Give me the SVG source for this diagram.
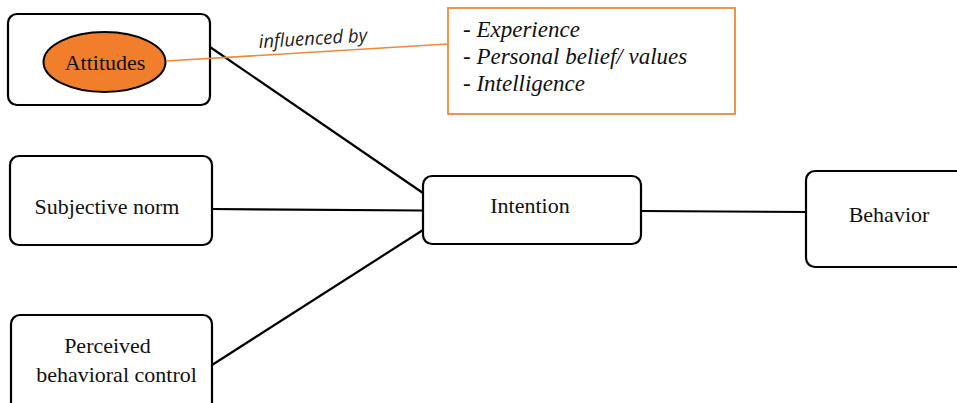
<svg xmlns="http://www.w3.org/2000/svg" width="957" height="403" viewBox="0 0 957 403">
<style>
.box{fill:#fff;stroke:#000;stroke-width:2.2}
.lbl{font-family:'Liberation Serif','Tinos','Times New Roman','DejaVu Serif',serif;font-size:22px;fill:#111}
.it{font-family:'Liberation Serif','Tinos','Times New Roman','DejaVu Serif',serif;font-style:italic;font-size:23px;fill:#111}
.con{stroke:#000;stroke-width:2.2;fill:none}
</style>
<rect width="957" height="403" fill="#fff"/>
<g id="attitudes">
<rect class="box" x="8" y="14" width="202" height="91" rx="9"/>
<ellipse cx="104.5" cy="62" rx="61" ry="30" fill="#F07E2B" stroke="#000" stroke-width="2"/>
<text class="lbl" x="105" y="70" text-anchor="middle">Attitudes</text>
</g>
<g id="factors">
<rect x="448" y="8" width="287" height="106" fill="#fff" stroke="#F0883A" stroke-width="1.8"/>
<text class="it" x="463" y="37">- Experience</text>
<text class="it" x="463" y="64">- Personal belief/ values</text>
<text class="it" x="463" y="91">- Intelligence</text>
</g>
<g id="subjective-norm">
<rect class="box" x="10" y="156" width="202" height="89" rx="9"/>
<text class="lbl" x="107" y="214" text-anchor="middle">Subjective norm</text>
</g>
<g id="perceived">
<rect class="box" x="11" y="315" width="201" height="100" rx="9"/>
<text class="lbl" x="107.5" y="353" text-anchor="middle">Perceived</text>
<text class="lbl" x="116.5" y="382" text-anchor="middle">behavioral control</text>
</g>
<g id="intention">
<rect class="box" x="423" y="176" width="218" height="68" rx="9"/>
<text class="lbl" x="530" y="213" text-anchor="middle">Intention</text>
</g>
<g id="behavior">
<rect class="box" x="806" y="171" width="170" height="96" rx="9"/>
<text class="lbl" x="889" y="222" text-anchor="middle">Behavior</text>
</g>
<g id="connectors">
<line class="con" x1="210" y1="47" x2="423" y2="193"/>
<line class="con" x1="212" y1="209" x2="423" y2="210.5"/>
<line class="con" x1="212" y1="365" x2="423" y2="230"/>
<line class="con" x1="641" y1="211" x2="806" y2="212"/>
<line x1="166" y1="61" x2="448" y2="44" stroke="#F0883A" stroke-width="1.6"/>
<text x="259" y="48" transform="rotate(-3.4 259 48)" font-family="'Open Sans','Noto Sans',sans-serif" font-style="italic" font-size="18.5" fill="#222">influenced by</text>
</g>
</svg>
